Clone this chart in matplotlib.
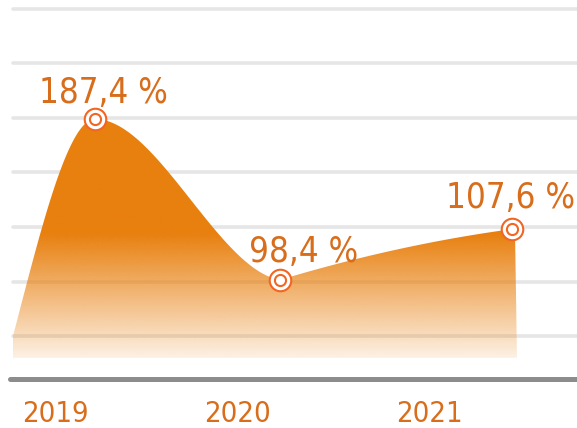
import numpy as np
import matplotlib
matplotlib.use("Agg")
import matplotlib.pyplot as plt
from matplotlib.patches import Polygon

# ---- data ----
years = ["2019", "2020", "2021"]
values = [187.4, 98.4, 107.6]           # labelled values
point_x = [95, 280, 511.5]              # horizontal position of each year's point
heights = [3.98, 1.03, 1.96]            # plotted height (in grid steps) of each point
year_label_x = [55, 238, 429]
grid_levels = [0, 1, 2, 3, 4, 5, 6]

# ---- style ----
ORANGE = "#E8800F"
RING = "#F26522"
TEXT = "#D86E1C"
GRID = "#E6E6E6"
BASE = "#8C8C8C"
FONT = ["DejaVu Sans"]

fig = plt.figure(figsize=(5.77, 4.28), dpi=100)
ax = fig.add_axes([0, 0, 1, 1])
ax.set_xlim(0, 577)
ax.set_ylim(-1.688, 6.165)
ax.axis("off")

# gridlines
ax.hlines(grid_levels, 13, 600, color=GRID, lw=2.6, capstyle="round", zorder=1)


def hermite(x0, y0, x1, y1, m0, m1, n=120):
    t = np.linspace(0, 1, n)
    h = x1 - x0
    h00 = 2 * t**3 - 3 * t**2 + 1
    h10 = t**3 - 2 * t**2 + t
    h01 = -2 * t**3 + 3 * t**2
    h11 = t**3 - t**2
    return x0 + t * h, h00 * y0 + h10 * h * m0 + h01 * y1 + h11 * h * m1


start = (13, 0.0)
bottom = -0.4
# (outgoing tangent, incoming tangent) per segment, in grid steps per px
seg_tangents = [(0.07, 0.0), (0.0, -0.003), (0.0055, 0.0025)]
knots = [start] + list(zip(point_x, heights))
xs, ys = [start[0]], [bottom]
for i in range(len(knots) - 1):
    (xa, ya), (xb, yb) = knots[i], knots[i + 1]
    m0, m1 = seg_tangents[i]
    sx, sy = hermite(xa, ya, xb, yb, m0, m1)
    xs.extend(sx)
    ys.extend(sy)
xs.extend([point_x[-1] + 3.5, point_x[-1] + 5.5])
ys.extend([heights[-1] - 0.03, bottom])
verts = np.column_stack([xs, ys])

poly = Polygon(verts, closed=True, facecolor="none", edgecolor="none")
ax.add_patch(poly)

# vertical gradient fill
yy = np.linspace(-1.688, 6.165, 600)
alpha = np.clip(0.27 + 0.39 * yy, 0.08, 1.0)
rgb = matplotlib.colors.to_rgb(ORANGE)
img = np.zeros((len(yy), 1, 4))
img[:, 0, :3] = rgb
img[:, 0, 3] = alpha
im = ax.imshow(img, extent=(0, 577, -1.688, 6.165), origin="lower",
               aspect="auto", zorder=2, interpolation="bilinear")
im.set_clip_path(poly)

# baseline
ax.plot([10, 600], [-0.789, -0.789], color=BASE, lw=3.6,
        solid_capstyle="round", zorder=3)

# markers
ax.plot(point_x, heights, "o", ms=15.5, mfc="white", mec=RING, mew=1.5, zorder=4)
ax.plot(point_x, heights, "o", ms=8, mfc="none", mec=RING, mew=1.5, zorder=5)

# value labels
label_dx = [8.5, 23.5, -0.5]
label_dy = [0.295, 0.328, 0.39]
for x, h, v, dx, dy in zip(point_x, heights, values, label_dx, label_dy):
    txt = f"{v:.1f}".replace(".", ",") + " %"
    ax.text(x + dx, h + dy, txt, ha="center", va="baseline", fontsize=25,
            color=TEXT, family=FONT, fontstretch="condensed", zorder=6)

# year labels
for x, yr in zip(year_label_x, years):
    ax.text(x, -1.575, yr, ha="center", va="baseline", fontsize=21,
            color=TEXT, family=FONT, fontstretch="condensed", zorder=6)

fig.savefig("out.png", dpi=100)
